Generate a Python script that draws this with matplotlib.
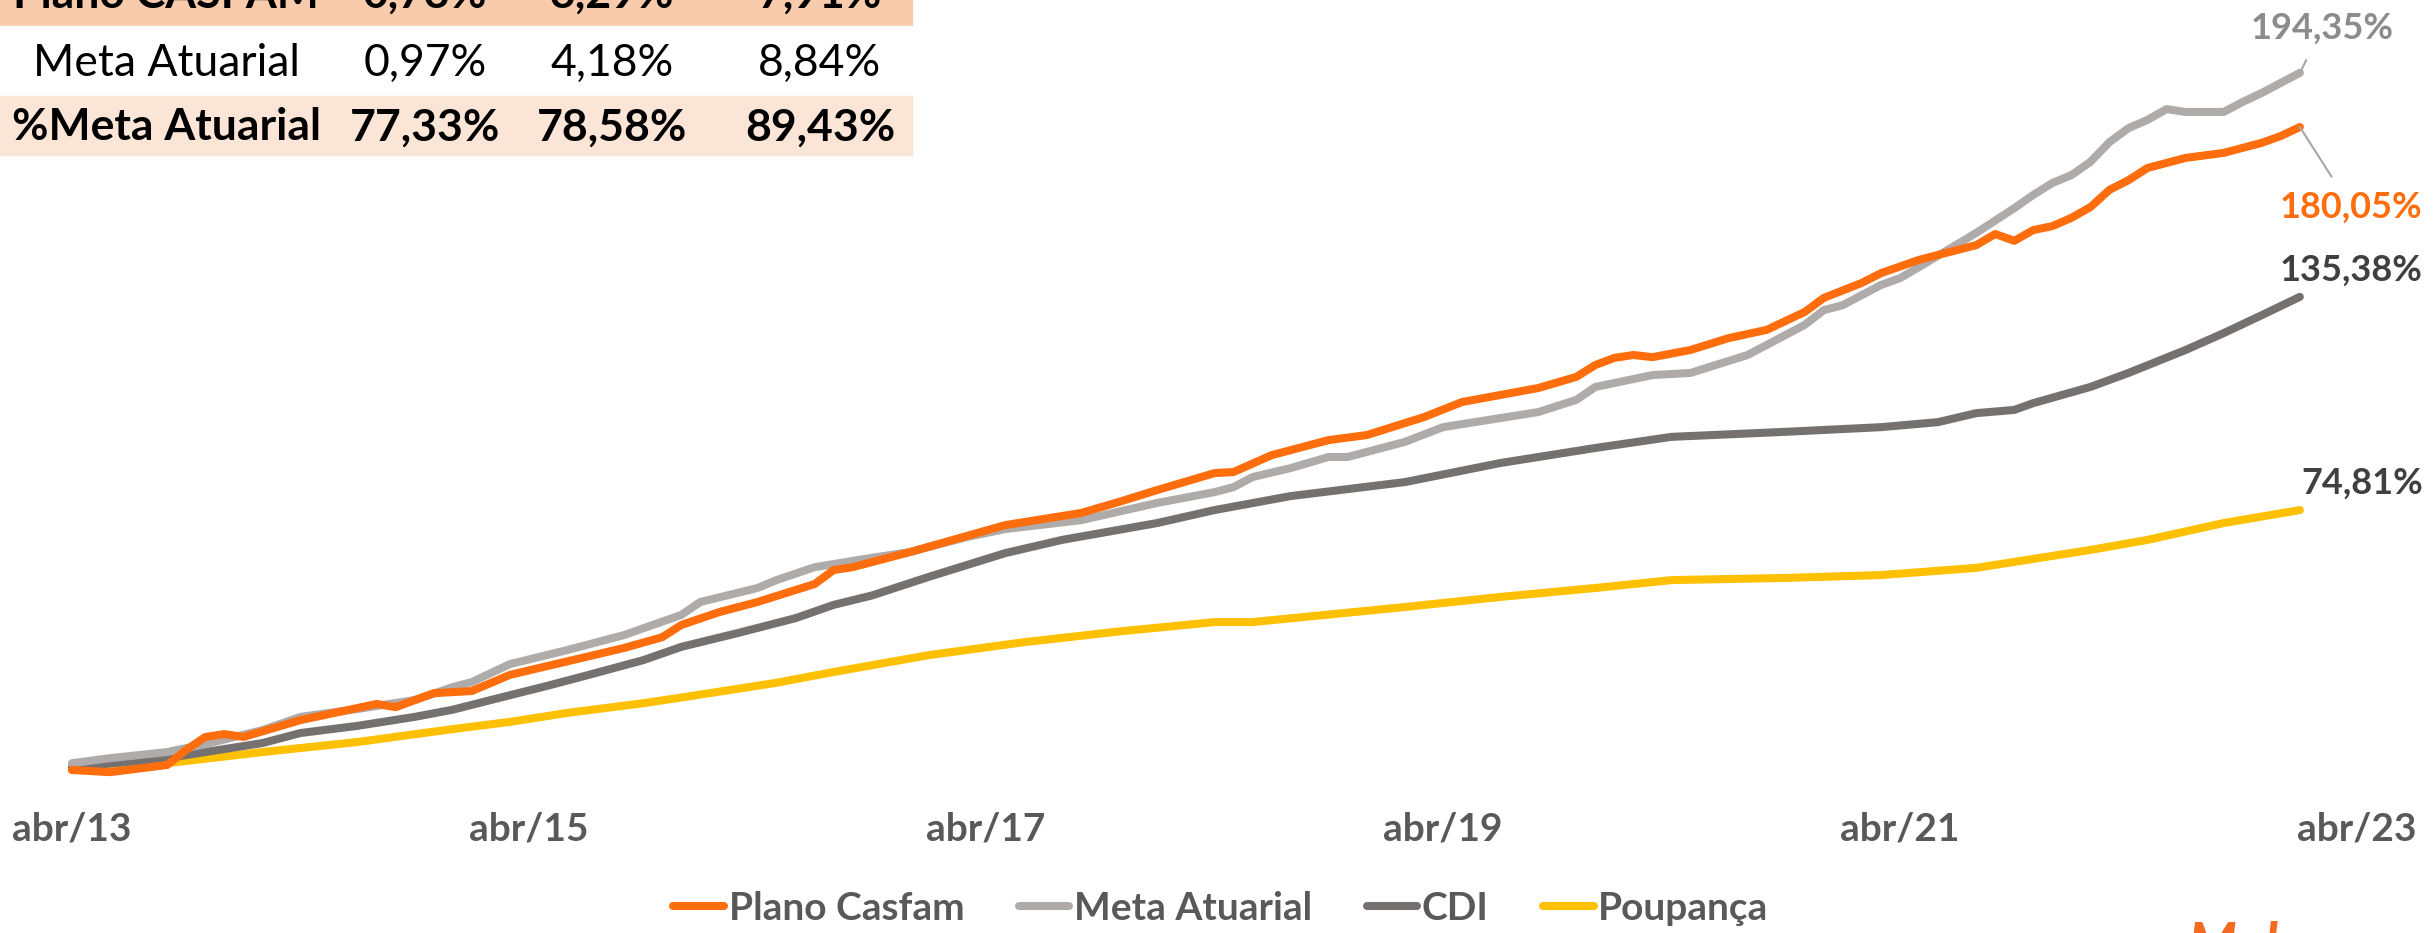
import matplotlib
matplotlib.use('Agg')
import matplotlib.pyplot as plt
from matplotlib.patches import Rectangle

plt.rcParams['font.family'] = ['Lato', 'DejaVu Sans']

# ── Dados (rentabilidade acumulada, % — meses desde abr/13) ──────────────────

casfam_mes = [0, 2, 5, 6, 7, 8, 9, 12, 16, 17, 19, 21, 23, 27, 29, 31, 32, 34, 36, 39,
              40, 41, 44, 49, 53, 55, 57, 60, 61, 63, 66, 68, 71, 73, 77, 79, 80, 81,
              82, 83, 85, 87, 89, 91, 92, 94, 95, 97, 100, 101, 102, 103, 104, 105,
              106, 107, 108, 109, 111, 113, 115, 116, 117]
casfam_val = [0.0, -0.6, 1.4, 5.6, 9.2, 10.0, 9.2, 13.9, 18.4, 17.5, 21.4, 22.0, 26.5,
              31.5, 34.0, 37.0, 40.4, 44.0, 46.8, 51.8, 55.7, 56.5, 60.7, 68.2, 71.6,
              74.7, 78.0, 82.7, 83.0, 87.7, 91.9, 93.3, 98.3, 102.5, 106.4, 109.5,
              112.8, 114.8, 115.6, 115.0, 117.0, 120.3, 122.6, 127.6, 131.5, 135.7,
              138.4, 142.1, 146.2, 149.3, 147.4, 150.4, 151.5, 153.8, 156.8, 161.6,
              164.3, 167.7, 170.5, 171.9, 174.7, 176.6, 179.1]

meta_mes = [0, 2, 5, 7, 10, 12, 15, 18, 20, 21, 23, 26, 29, 32, 33, 36, 37, 39, 42, 44,
            47, 49, 53, 57, 60, 61, 62, 64, 66, 67, 70, 72, 77, 79, 80, 83, 85, 88, 91,
            92, 93, 95, 96, 97, 100, 102, 103, 104, 105, 106, 107, 108, 109, 110, 111,
            113, 114, 115, 116, 117]
meta_val = [1.9, 3.3, 5.0, 7.2, 11.1, 14.8, 17.0, 19.5, 23.1, 24.5, 29.5, 33.4, 37.6,
            43.2, 46.8, 50.7, 52.9, 56.5, 59.1, 60.7, 64.9, 67.1, 69.6, 74.4, 77.4,
            78.8, 81.6, 84.1, 87.2, 87.2, 91.4, 95.5, 99.7, 103.1, 106.7, 110.0, 110.6,
            115.6, 124.0, 128.1, 129.5, 135.1, 137.0, 140.1, 149.6, 156.5, 160.2, 163.5,
            165.7, 169.4, 174.9, 178.8, 181.1, 184.1, 183.3, 183.3, 186.1, 188.6, 191.4,
            194.2]

cdi_mes = [0, 5, 7, 10, 12, 15, 18, 20, 22, 25, 27, 30, 32, 35, 38, 40, 42, 45, 49, 52,
           57, 60, 64, 70, 75, 80, 84, 90, 95, 98, 100, 102, 103, 106, 108, 111, 113,
           115, 117]
cdi_val = [0.8, 3.3, 5.0, 7.5, 10.3, 12.3, 14.8, 16.8, 19.5, 23.5, 26.3, 30.6, 34.3,
           38.2, 42.3, 46.0, 48.6, 53.8, 60.4, 64.1, 68.8, 72.4, 76.3, 80.2, 85.5, 89.7,
           92.8, 94.2, 95.5, 96.9, 99.4, 100.3, 102.2, 106.7, 110.6, 117.0, 121.7,
           126.7, 131.8]

poup_mes = [0, 5, 10, 15, 20, 23, 26, 30, 33, 37, 40, 45, 50, 55, 60, 62, 70, 75, 80,
            84, 90, 95, 100, 106, 109, 113, 117]
poup_val = [0.0, 1.9, 5.0, 7.8, 11.4, 13.4, 15.9, 18.6, 21.0, 24.3, 27.3, 32.0, 35.6,
            38.6, 41.2, 41.2, 45.4, 48.2, 50.7, 52.9, 53.5, 54.3, 56.3, 61.3, 64.1,
            68.8, 72.4]

rotulos_finais = ['180,05%', '194,35%', '135,38%', '74,81%']

tick_mes = [0, 24, 48, 72, 96, 120]
tick_txt = ['abr/13', 'abr/15', 'abr/17', 'abr/19', 'abr/21', 'abr/23']

# tabela (primeira linha cortada na imagem original)
tab_nomes = ['Plano CASFAM', 'Meta Atuarial', '%Meta Atuarial']
tab_valores = [['0,73%', '3,29%', '7,91%'],
               ['0,97%', '4,18%', '8,84%'],
               ['77,33%', '78,58%', '89,43%']]

# ── Estilo ───────────────────────────────────────────────────────────────────

LARANJA = '#FF6D0D'
CINZA_CLARO = '#AFABAB'
CINZA_ESCURO = '#767171'
AMARELO = '#FFC000'
TEXTO = '#595959'

W, H = 2433, 933
fig = plt.figure(figsize=(W / 100, H / 100), dpi=100)

def fx(px):
    return px / W

def fy(py):
    return 1 - py / H

ax = fig.add_axes([fx(72), fy(770), fx(2285), 718 / H])

series = [
    (casfam_mes, casfam_val, LARANJA, 'Plano Casfam'),
    (meta_mes, meta_val, CINZA_CLARO, 'Meta Atuarial'),
    (cdi_mes, cdi_val, CINZA_ESCURO, 'CDI'),
    (poup_mes, poup_val, AMARELO, 'Poupança'),
]
# desenha do fundo para frente como no original
for mes, val, cor, nome in reversed(series):
    ax.plot(mes, val, color=cor, lw=5.8, label=nome, clip_on=False,
            solid_capstyle='round', solid_joinstyle='round')

ax.set_xlim(0, 120)
ax.set_ylim(0, 200)
for s in ax.spines.values():
    s.set_visible(False)
ax.set_yticks([])
ax.set_xticks(tick_mes)
ax.set_xticklabels(tick_txt, fontsize=28, fontweight='bold', color=TEXTO)
ax.tick_params(axis='x', length=0, pad=30)

# rótulos do último ponto
rot_cfg = [
    (casfam_mes, casfam_val, LARANJA, (37, -58), True),
    (meta_mes, meta_val, '#8C8C8C', (16, 32), True),
    (cdi_mes, cdi_val, '#404040', (37, 19), False),
    (poup_mes, poup_val, '#404040', (45, 19), False),
]
for (mes, val, cor, off, linha), txt in zip(rot_cfg, rotulos_finais):
    props = dict(arrowstyle='-', color='#A6A6A6', lw=1.5, shrinkA=10, shrinkB=0) if linha else None
    ax.annotate(txt, xy=(mes[-1], val[-1]), xytext=off, textcoords='offset points',
                ha='center', va='center', fontsize=26, fontweight='bold', color=cor,
                arrowprops=props, annotation_clip=False)

# legenda
handles, labels = ax.get_legend_handles_labels()
fig.legend(handles[::-1], labels[::-1], loc='center', bbox_to_anchor=(fx(1221), fy(908)),
           ncol=4, frameon=False, handlelength=1.3, handletextpad=0.12,
           columnspacing=1.4, prop={'size': 28, 'weight': 'bold'}, labelcolor=TEXTO)

# tabela no canto superior esquerdo
linhas_y = [(-40, 26), (26, 96), (96, 155)]
fundos = ['#F8CBAD', 'white', '#FBE5D6']
pesos = ['bold', 'normal', 'bold']
col_x = [425, 612, 820]
for i, nome in enumerate(tab_nomes):
    y0, y1 = linhas_y[i]
    fig.patches.append(Rectangle((0, fy(y1)), fx(912), (y1 - y0) / H,
                                 transform=fig.transFigure, color=fundos[i], zorder=0))
    yc = fy((y0 + y1) / 2 + 2)
    fig.text(fx(166), yc, nome, ha='center', va='center', fontsize=32,
             fontweight=pesos[i], color='black')
    for cx, v in zip(col_x, tab_valores[i]):
        fig.text(fx(cx), yc, v, ha='center', va='center', fontsize=32,
                 fontweight=pesos[i], color='black')

# logotipo cortado no canto inferior direito
fig.text(fx(2188), fy(921), 'Mol', ha='left', va='top', fontsize=40,
         fontweight='bold', style='italic', color='#F26B21')

fig.savefig('out.png', dpi=100)
plt.close(fig)
